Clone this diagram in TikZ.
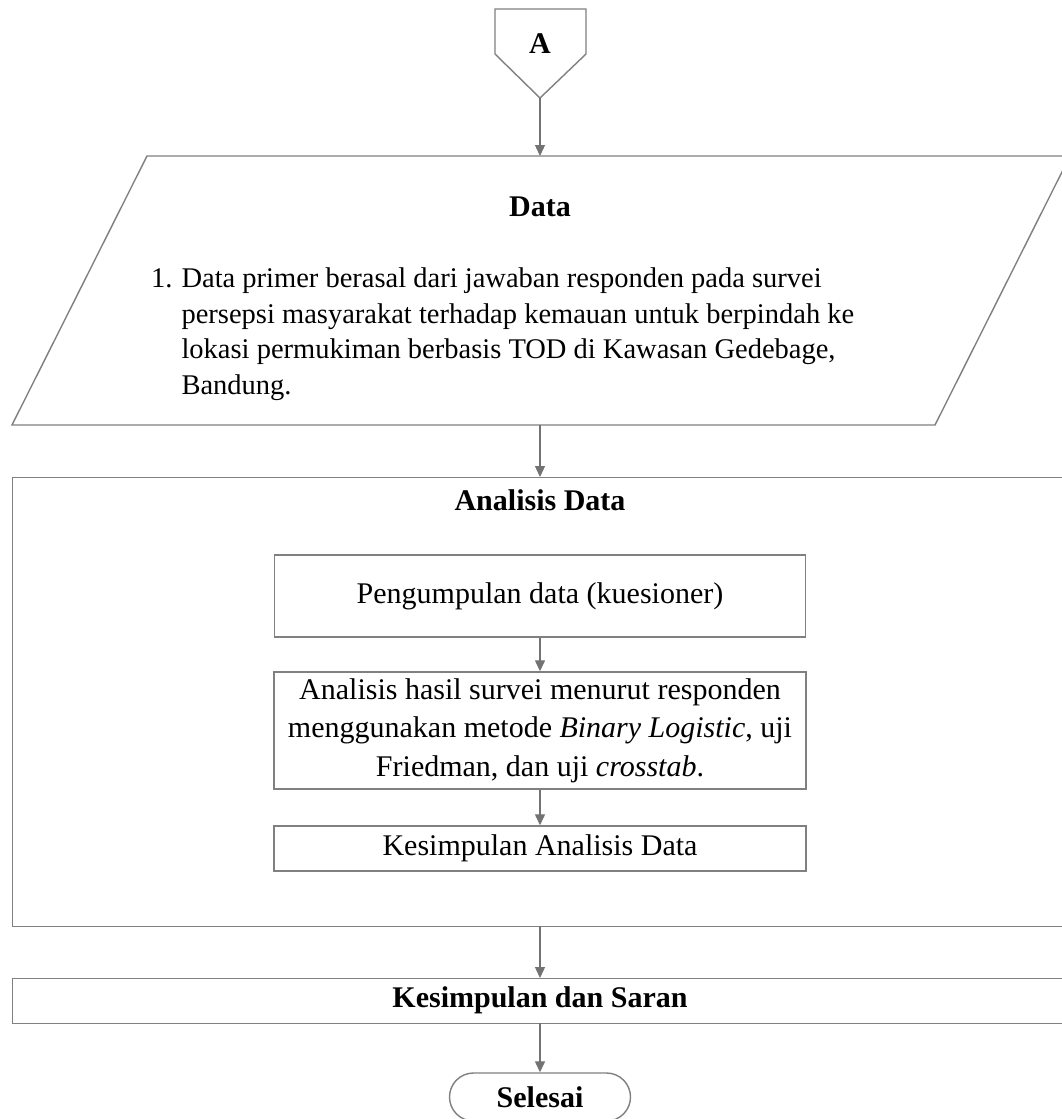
\documentclass[tikz,border=0pt]{standalone}
\usepackage{fontspec}
\setmainfont{Liberation Serif}
\usetikzlibrary{arrows.meta,shapes.geometric}
\begin{document}
\begin{tikzpicture}[x=1bp,y=-1bp,
  line/.style={draw=black!50, line width=1.4bp},
  arr/.style={draw=black!55, line width=1.3bp, -{Triangle[width=10bp,length=11bp]}},
  box/.style={line, rectangle, inner sep=0pt, align=center},
  txt/.style={font=\fontsize{30bp}{38.5bp}\selectfont}]
\useasboundingbox (0,0) rectangle (1062,1119);
\clip (0,0) rectangle (1062,1119);
\fill[white] (0,0) rectangle (1062,1119);
% connector A
\draw[line] (495,9) -- (586,9) -- (586,54) -- (540,98) -- (495,54) -- cycle;
\node[txt] (A) at (540,44) {\textbf{A}};
\coordinate (Atip) at (540,98);
% data parallelogram
\draw[line] (147,156) -- (1070,156) -- (935,425) -- (12,425) -- cycle;
\coordinate (Dtop) at (540,156);
\coordinate (Dbot) at (540,425);
\node[txt] (Dtitle) at (540,207) {\textbf{Data}};
\node[anchor=west, inner sep=0pt] (Dtext) at (151,334) {\fontsize{28.5bp}{35.5bp}\selectfont
\begin{tabular}{@{}l@{\hspace{9bp}}l@{}}
1. & Data primer berasal dari jawaban responden pada survei\\
 & persepsi masyarakat terhadap kemauan untuk berpindah ke\\
 & lokasi permukiman berbasis TOD di Kawasan Gedebage,\\
 & Bandung.
\end{tabular}};
% analysis
\node[box, minimum width=1058bp, minimum height=449bp, anchor=north west] (ana) at (12,477) {};
\node[txt] (anat) at (540,500) {\textbf{Analisis Data}};
\node[box, txt, minimum width=531bp, minimum height=82bp] (b1) at (540,596) {Pengumpulan data (kuesioner)};
\node[box, txt, minimum width=532bp, minimum height=117bp] (b2) at (540,730.5) {Analisis hasil survei menurut responden\\menggunakan metode \textit{Binary Logistic}, uji\\Friedman, dan uji \textit{crosstab}.};
\node[box, txt, minimum width=532bp, minimum height=45bp] (b3) at (540,848.5) {Kesimpulan Analisis Data};
% conclusion
\node[box, minimum width=1058bp, minimum height=45bp, anchor=north west] (kes) at (12,978) {};
\node[txt] (kest) at (540,1000.5) {\textbf{Kesimpulan dan Saran}};
\coordinate (kesn) at (540,978);
\coordinate (anas) at (540,926);
\coordinate (kess) at (540,1023);
\node[line, txt, rectangle, rounded corners=24bp, minimum width=181bp, minimum height=48bp, inner sep=0pt] (end) at (540,1097) {\textbf{Selesai}};
% arrows
\draw[arr] (Atip) -- (Dtop);
\draw[arr] (Dbot) -- (Dbot |- ana.north);
\draw[arr] (b1.south) -- (b2.north);
\draw[arr] (b2.south) -- (b3.north);
\draw[arr] (anas) -- (kesn);
\draw[arr] (kess) -- (end.north);
\end{tikzpicture}
\end{document}
